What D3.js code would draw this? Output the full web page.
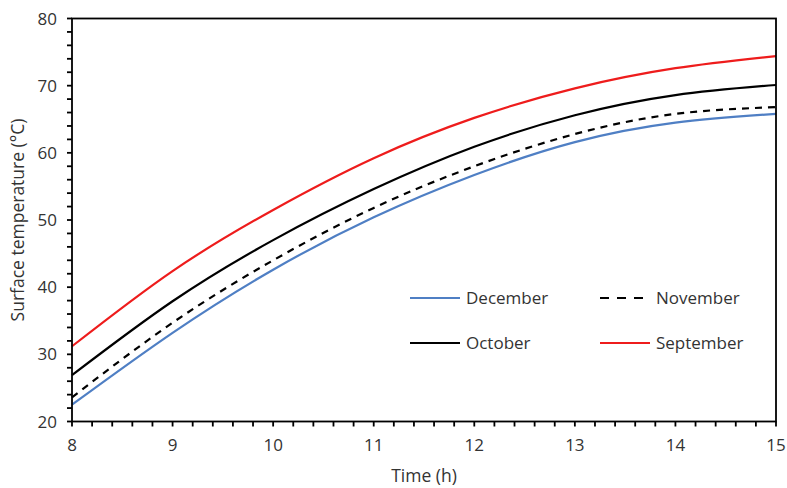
<!DOCTYPE html>
<html>
<head>
<meta charset="utf-8">
<script src="https://cdn.jsdelivr.net/npm/d3@7"></script>
<style>
  html, body { margin: 0; padding: 0; background: #fff; }
  svg text { font-family: "Open Sans", "Liberation Sans", sans-serif; fill: #333333; }
</style>
</head>
<body>
<svg id="chart" width="787" height="488"></svg>
<script>
// Time of day (h)
const hours = [8, 9, 10, 11, 12, 13, 14, 15];
// Surface temperature (°C) per month
const december  = [22.5, 33.2, 42.6, 50.4, 56.7, 61.6, 64.5, 65.8];
const november  = [23.6, 34.7, 44.0, 51.8, 58.0, 62.8, 65.8, 66.8];
const october   = [26.9, 37.9, 47.0, 54.6, 60.9, 65.6, 68.6, 70.1];
const september = [31.2, 42.4, 51.5, 59.2, 65.2, 69.6, 72.6, 74.4];

const xTicks = [8, 9, 10, 11, 12, 13, 14, 15];
const yTicks = [20, 30, 40, 50, 60, 70, 80];

const seriesNames  = ["December", "November", "October", "September"];
const seriesValues = [december, november, october, september];
const seriesColors = ["#4f7fc4", "#000000", "#000000", "#ee1c1c"];
const seriesDash   = [null, "7,6", null, null];

const svg = d3.select("#chart");
const plotL = 72, plotR = 776, plotT = 18.5, plotB = 421.5;

const x = d3.scaleLinear().domain([8, 15]).range([plotL, plotR]);
const y = d3.scaleLinear().domain([20, 80]).range([plotB, plotT]);

// Curves
const line = d3.line()
  .x((d, i) => x(hours[i]))
  .y(d => y(d))
  .curve(d3.curveNatural);

seriesValues.forEach((vals, k) => {
  svg.append("path")
    .datum(vals)
    .attr("d", line)
    .attr("fill", "none")
    .attr("stroke", seriesColors[k])
    .attr("stroke-width", 2.2)
    .attr("stroke-dasharray", seriesDash[k]);
});

// Frame
svg.append("rect")
  .attr("x", plotL).attr("y", plotT)
  .attr("width", plotR - plotL).attr("height", plotB - plotT)
  .attr("fill", "none").attr("stroke", "#000").attr("stroke-width", 1.8);

// X axis: major ticks each hour, minor every 0.2 h
const minorX = d3.range(8, 15.0001, 0.2);
svg.append("g").selectAll("line").data(minorX).join("line")
  .attr("x1", d => x(d)).attr("x2", d => x(d))
  .attr("y1", plotB).attr("y2", plotB + 5)
  .attr("stroke", "#000").attr("stroke-width", 1.8);
svg.append("g").selectAll("text").data(xTicks).join("text")
  .attr("x", d => x(d)).attr("y", plotB + 29)
  .attr("text-anchor", "middle").attr("font-size", 17)
  .text(d => d);

// Y axis: major ticks each 10 °C, minor every 2 °C
const minorY = d3.range(20, 80.0001, 2);
svg.append("g").selectAll("line").data(minorY).join("line")
  .attr("x1", plotL - 5).attr("x2", plotL)
  .attr("y1", d => y(d)).attr("y2", d => y(d))
  .attr("stroke", "#000").attr("stroke-width", 1.8);
svg.append("g").selectAll("text").data(yTicks).join("text")
  .attr("x", plotL - 15).attr("y", d => y(d) + 6)
  .attr("text-anchor", "end").attr("font-size", 17)
  .text(d => d);

// Axis titles
svg.append("text")
  .attr("x", 424).attr("y", 482)
  .attr("text-anchor", "middle").attr("font-size", 17.5)
  .text("Time (h)");
svg.append("text")
  .attr("transform", "translate(24,220) rotate(-90)")
  .attr("text-anchor", "middle").attr("font-size", 17.5)
  .text("Surface temperature (°C)");

// Legend
const legendPos = [[410, 298], [600, 298], [410, 343], [600, 343]];
seriesNames.forEach((name, k) => {
  const [lx, ly] = legendPos[k];
  svg.append("line")
    .attr("x1", lx).attr("x2", lx + 50)
    .attr("y1", ly).attr("y2", ly)
    .attr("stroke", seriesColors[k]).attr("stroke-width", 2.2)
    .attr("stroke-dasharray", seriesDash[k] ? "9,8" : null);
  svg.append("text")
    .attr("x", lx + 56).attr("y", ly + 6)
    .attr("font-size", 17)
    .text(name);
});
</script>
</body>
</html>
